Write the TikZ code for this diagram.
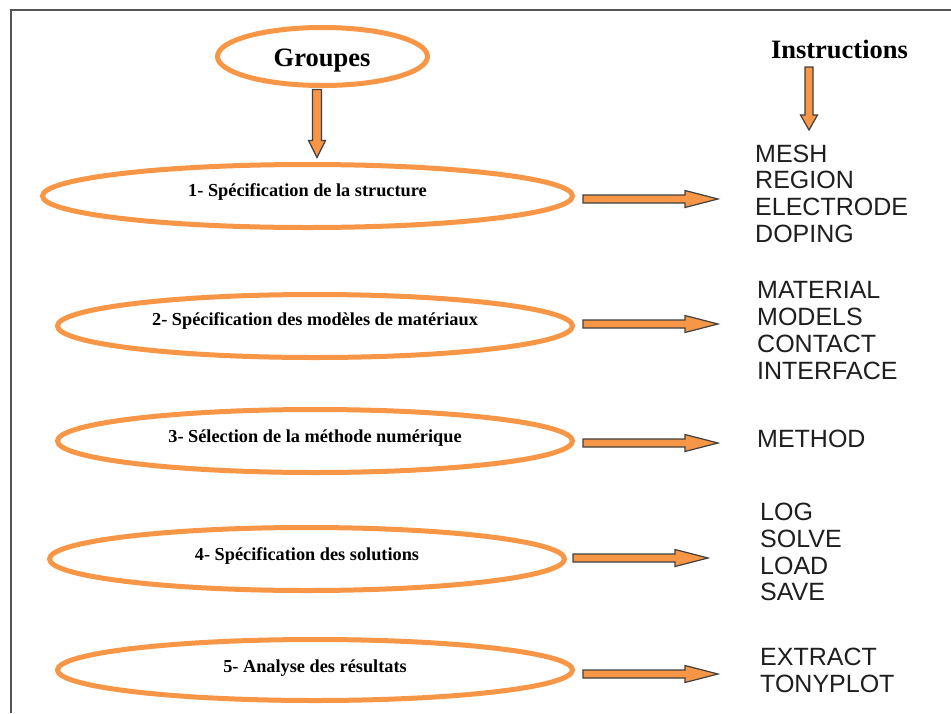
\documentclass[tikz,border=0pt]{standalone}
\usepackage{fontspec}
\setmainfont{Liberation Serif}
\newfontfamily\instrfont{Liberation Sans}
\usetikzlibrary{shapes.geometric,calc}
\definecolor{orng}{HTML}{F79646}
\definecolor{frame}{HTML}{555555}
\definecolor{arrline}{HTML}{404040}
\definecolor{txt}{HTML}{1E1E1E}
\tikzset{
  grp/.style={ellipse,draw=orng,line width=5pt,inner sep=0pt},
  grptext/.style={anchor=base,inner sep=0pt,font=\bfseries\fontsize{18.3}{20}\selectfont,text=black},
  headtext/.style={anchor=base,inner sep=0pt,font=\bfseries\fontsize{26.5}{28}\selectfont,text=black},
  instr/.style={anchor=north west,inner sep=0pt,align=left,text=txt,font=\instrfont\fontsize{25}{26.7}\selectfont},
  blockarrow/.style={fill=orng,draw=arrline,line width=1.2pt,line join=miter},
  hbarrow/.pic={\path[blockarrow] (0,-4) -- (102,-4) -- (102,-8.5) -- (135,0) -- (102,8.5) -- (102,4) -- (0,4) -- cycle;},
  vbarrowA/.pic={\path[blockarrow] (-4.5,0) -- (-4.5,51) -- (-8.5,51) -- (0,68) -- (8.5,51) -- (4.5,51) -- (4.5,0) -- cycle;},
  vbarrowB/.pic={\path[blockarrow] (-4,0) -- (-4,48) -- (-8.5,48) -- (0,63) -- (8.5,48) -- (4,48) -- (4,0) -- cycle;}
}
\begin{document}
\begin{tikzpicture}[x=1pt,y=-1pt]
\useasboundingbox (0,0) rectangle (951,713);
% frame
\draw[frame,line width=2pt] (11,713) -- (11,9.5) -- (951,9.5);
% head ellipse
\node[grp,minimum width=210pt,minimum height=58pt] (g) at (322.5,56.5) {};
\node[headtext] (gt) at (322,66) {Groupes};
\node[headtext] (it) at (839.5,58) {Instructions};
% group ellipses
\node[grp,minimum width=530pt,minimum height=63pt] (e1) at (307.5,196) {};
\node[grp,minimum width=515pt,minimum height=63pt] (e2) at (315,326) {};
\node[grp,minimum width=515pt,minimum height=63pt] (e3) at (315,441) {};
\node[grp,minimum width=515pt,minimum height=63pt] (e4) at (307,559) {};
\node[grp,minimum width=515pt,minimum height=61pt] (e5) at (315,670) {};
\node[grptext] (t1) at ($(e1.center)+(0,0)$) {1- Spécification de la structure};
\node[grptext] (t2) at ($(e2.center)+(0,-1)$) {2- Spécification des modèles de matériaux};
\node[grptext] (t3) at ($(e3.center)+(0,1)$) {3- Sélection de la méthode numérique};
\node[grptext] (t4) at ($(e4.center)+(0,1)$) {4- Spécification des solutions};
\node[grptext] (t5) at ($(e5.center)+(0,2)$) {5- Analyse des résultats};
% instruction lists
\node[instr] (i1) at (755,144.5) {MESH\\REGION\\ELECTRODE\\DOPING};
\node[instr] (i2) at (757,281.5) {MATERIAL\\MODELS\\CONTACT\\INTERFACE};
\node[instr] (i3) at (757,430) {METHOD};
\node[instr] (i4) at (760,503) {LOG\\SOLVE\\LOAD\\SAVE};
\node[instr] (i5) at (760,648) {EXTRACT\\TONYPLOT};
% arrows
\coordinate (ga) at ($(g.south)+(-5.5,1.5)$);
\pic at (ga) {vbarrowA};
\coordinate (ia) at ($(it.base)+(-30.5,9)$);
\pic at (ia) {vbarrowB};
\coordinate (a1) at ($(e1.east)+(8,3)$);
\coordinate (a2) at ($(e2.east)+(8,-2)$);
\coordinate (a3) at ($(e3.east)+(8,2)$);
\coordinate (a4) at ($(e4.east)+(6,-1)$);
\coordinate (a5) at ($(e5.east)+(8,4)$);
\foreach \a in {a1,a2,a3,a4,a5} {\pic at (\a) {hbarrow};}
\end{tikzpicture}
\end{document}
